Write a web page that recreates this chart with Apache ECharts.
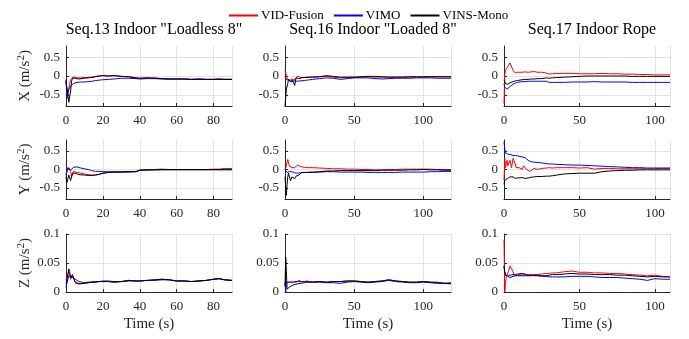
<!DOCTYPE html>
<html>
<head>
<meta charset="utf-8">
<script src="https://cdn.jsdelivr.net/npm/echarts@6/dist/echarts.min.js"></script>
<style>
  html, body { margin: 0; padding: 0; background: #fff; }
  #main { width: 689px; height: 339px; }
</style>
</head>
<body>
<div id="main"></div>
<script>
// time samples, one per sequence (s)
var t13 = [0,0.5,1,1.5,2,2.5,3,3.5, 4,5,6,7,8, 10,12,14,16,18,20, 23,26,30,34,38,40, 44,48,52,56,60, 64,68,72,76,80, 83,86,90];
var t16 = [0,0.5,1,1.5,2,2.5,3, 4,5,6,7,8,9,10, 11,12,14,16,18,20, 25,30,35,40,45,50, 55,60,65,70,75,80, 85,90,95,100,105,110, 115,120];
var t17 = [0,0.5,1,1.5,2,2.5,3, 4,5,6,6.5,7,7.5,8, 9,10,12,13,14,15,16, 17,18,20,22,25,28,30, 32,35,40,45,50,55,60, 65,70,75,80,85,90,95, 100,105,110];

var seriesNames = ['VID-Fusion', 'VIMO', 'VINS-Mono'];
var titles = ['Seq.13 Indoor "Loadless 8"', 'Seq.16 Indoor "Loaded 8"', 'Seq.17 Indoor Rope'];
var rowNames = ['X', 'Y', 'Z'];
var xMax = [90, 120, 110];
var xStep = [20, 50, 50];

// Seq.13
var xRed13 = [-0.1,-0.4,-0.5,-0.35,-0.2,-0.1,-0.08,-0.06, -0.03,-0.04,-0.05,-0.06,-0.05, -0.04,-0.04,-0.03,-0.01,0,0.01, 0,0.01,-0.01,-0.02,-0.05,-0.06, -0.05,-0.05,-0.07,-0.08,-0.08, -0.08,-0.09,-0.08,-0.09,-0.09, -0.08,-0.09,-0.09];
var xBlu13 = [-0.1,-0.6,-0.45,-0.35,-0.3,-0.27,-0.25,-0.22, -0.2,-0.18,-0.17,-0.17,-0.16, -0.16,-0.15,-0.14,-0.12,-0.11,-0.1, -0.09,-0.08,-0.06,-0.06,-0.07,-0.08, -0.07,-0.07,-0.08,-0.08,-0.08, -0.08,-0.09,-0.09,-0.09,-0.09, -0.09,-0.09,-0.09];
var xBlk13 = [-0.15,-0.3,-0.5,-0.7,-0.65,-0.4,-0.15,-0.05, -0.03,-0.06,-0.08,-0.08,-0.07, -0.06,-0.05,-0.04,-0.02,0,0.01, 0,0.01,-0.01,-0.02,-0.05,-0.06, -0.05,-0.06,-0.07,-0.08,-0.08, -0.08,-0.09,-0.08,-0.09,-0.09, -0.08,-0.09,-0.09];
var yRed13 = [-0.1,-0.15,-0.05,0.05,0.1,-0.05,-0.2,-0.15, -0.05,-0.05,-0.08,-0.1,-0.1, -0.12,-0.14,-0.15,-0.15,-0.13,-0.1, -0.08,-0.07,-0.07,-0.07,-0.06,-0.02, -0.01,0,0.01,0,0, 0,0,0,0,0.01, 0.01,0.02,0.02];
var yBlu13 = [-0.15,-0.05,0.05,0.03,0,-0.02,0,0.03, 0.06,0.08,0.07,0.05,0.04, 0.02,0,-0.03,-0.05,-0.05,-0.06, -0.06,-0.06,-0.06,-0.06,-0.05,-0.02, -0.01,-0.01,-0.01,-0.01,-0.01, -0.01,-0.01,-0.01,-0.01,-0.01, -0.01,-0.01,-0.01];
var yBlk13 = [-0.2,-0.35,-0.3,-0.15,-0.2,-0.3,-0.25,-0.1, -0.05,-0.1,-0.13,-0.14,-0.14, -0.15,-0.16,-0.16,-0.15,-0.13,-0.1, -0.08,-0.07,-0.07,-0.06,-0.06,-0.02, -0.01,-0.01,0,0,0, 0,0,0,0,0, 0,0.01,0.01];
var zRed13 = [0.02,0.022,0.03,0.035,0.03,0.022,0.02,0.028, 0.028,0.018,0.015,0.014,0.014, 0.015,0.016,0.017,0.017,0.018,0.018, 0.018,0.017,0.018,0.02,0.019,0.019, 0.02,0.021,0.022,0.021,0.019, 0.019,0.018,0.019,0.02,0.022, 0.023,0.021,0.02];
var zBlu13 = [0.008,0.015,0.022,0.028,0.03,0.028,0.026,0.028, 0.027,0.022,0.019,0.018,0.017, 0.016,0.017,0.017,0.018,0.018,0.019, 0.019,0.018,0.018,0.019,0.019,0.019, 0.02,0.02,0.021,0.021,0.019, 0.019,0.018,0.019,0.02,0.022, 0.023,0.021,0.02];
var zBlk13 = [0.015,0.02,0.03,0.04,0.035,0.025,0.024,0.03, 0.025,0.016,0.014,0.014,0.014, 0.015,0.016,0.017,0.017,0.018,0.018, 0.018,0.017,0.018,0.02,0.019,0.019, 0.02,0.021,0.022,0.021,0.019, 0.019,0.018,0.019,0.02,0.022, 0.023,0.021,0.02];

// Seq.16
var xRed16 = [0.15,0.12,0.02,-0.05,-0.1,-0.05,-0.05, -0.15,-0.08,-0.05,-0.1,-0.08,0,-0.05, -0.04,-0.04,-0.04,-0.03,-0.03,-0.03, -0.02,-0.01,-0.03,-0.05,-0.04,-0.03, -0.03,-0.02,-0.03,-0.03,-0.03,-0.03, -0.03,-0.03,-0.03,-0.03,-0.02,-0.02, -0.02,-0.02];
var xBlu16 = [0,-0.05,-0.1,-0.1,-0.1,-0.1,-0.1, -0.11,-0.12,-0.12,-0.13,-0.14,-0.14,-0.14, -0.13,-0.13,-0.12,-0.11,-0.1,-0.09, -0.07,-0.05,-0.06,-0.09,-0.07,-0.05, -0.05,-0.05,-0.07,-0.08,-0.07,-0.06, -0.06,-0.06,-0.05,-0.05,-0.05,-0.06, -0.06,-0.06];
var xBlk16 = [-0.8,-0.8,-0.35,-0.3,-0.2,-0.1,-0.08, -0.15,-0.1,-0.15,-0.25,-0.05,-0.08,-0.07, -0.06,-0.05,-0.04,-0.04,-0.03,-0.03, -0.02,0.01,-0.01,-0.03,-0.03,-0.03, -0.02,-0.01,-0.01,-0.02,-0.03,-0.03, -0.03,-0.02,-0.02,-0.02,-0.02,-0.02, -0.02,-0.02];
var yRed16 = [0,0.05,0.1,0.2,0.27,0.2,0.1, 0.05,0.05,0.04,0.05,0.06,0.12,0.1, 0.08,0.1,0.06,0.05,0.05,0.05, 0.04,0.03,0.02,0.02,0.01,0.01, 0,0,-0.01,-0.01,0,0, 0.01,0.01,0.01,0.01,0.01,0, 0,0];
var yBlu16 = [0,-0.03,-0.05,-0.08,-0.1,-0.08,-0.06, -0.05,-0.06,-0.08,-0.09,-0.1,-0.1,-0.1, -0.09,-0.08,-0.08,-0.08,-0.08,-0.08, -0.07,-0.06,-0.06,-0.07,-0.07,-0.07, -0.07,-0.08,-0.08,-0.08,-0.08,-0.08, -0.07,-0.07,-0.07,-0.07,-0.06,-0.06, -0.05,-0.05];
var yBlk16 = [-0.2,-0.5,-0.7,-0.4,-0.2,-0.1,-0.15, -0.3,-0.2,-0.22,-0.25,-0.18,-0.15,-0.15, -0.1,-0.08,-0.08,-0.08,-0.07,-0.07, -0.06,-0.04,-0.04,-0.03,-0.03,-0.03, -0.03,-0.03,-0.03,-0.02,-0.02,-0.02, -0.02,-0.01,-0.01,0,-0.01,-0.01, -0.02,-0.02];
var zRed16 = [0.017,0.017,0.017,0.017,0.017,0.017,0.017, 0.017,0.017,0.017,0.017,0.017,0.017,0.02, 0.018,0.018,0.018,0.019,0.018,0.017, 0.018,0.017,0.018,0.018,0.019,0.019, 0.018,0.017,0.018,0.019,0.021,0.019, 0.018,0.017,0.017,0.018,0.017,0.017, 0.015,0.016];
var zBlu16 = [0.017,0,0.016,0.017,0.017,0.017,0.017, 0.017,0.017,0.017,0.018,0.018,0.018,0.018, 0.018,0.018,0.018,0.018,0.017,0.017, 0.017,0.016,0.016,0.015,0.017,0.018, 0.017,0.016,0.017,0.018,0.02,0.018, 0.017,0.016,0.016,0.017,0.016,0.015, 0.015,0.014];
var zBlk16 = [0.01,0.06,0.035,0.005,0.006,0.007,0.008, 0.01,0.011,0.012,0.013,0.014,0.014,0.015, 0.015,0.016,0.016,0.017,0.017,0.017, 0.018,0.017,0.018,0.018,0.019,0.019, 0.018,0.017,0.018,0.019,0.021,0.019, 0.018,0.017,0.017,0.018,0.017,0.016, 0.015,0.015];

// Seq.17
var xRed17 = [-0.75,0.05,0.15,0.2,0.2,0.25,0.3, 0.35,0.3,0.15,0.12,0.1,0.08,0.08, 0.1,0.11,0.1,0.12,0.11,0.12,0.1, 0.12,0.11,0.12,0.1,0.1,0.08,0.05, 0.06,0.07,0.07,0.07,0.06,0.06,0.06, 0.07,0.06,0.06,0.05,0.05,0.04,0.04, 0.03,0.03,0.03];
var xBlu17 = [-0.2,-0.3,-0.33,-0.35,-0.35,-0.33,-0.3, -0.28,-0.25,-0.22,-0.21,-0.2,-0.19,-0.18, -0.17,-0.16,-0.15,-0.15,-0.15,-0.14,-0.14, -0.14,-0.14,-0.14,-0.14,-0.14,-0.14,-0.17, -0.17,-0.17,-0.17,-0.16,-0.16,-0.16,-0.15, -0.16,-0.16,-0.16,-0.16,-0.17,-0.17,-0.17, -0.17,-0.17,-0.17];
var xBlk17 = [-0.1,-0.15,-0.2,-0.22,-0.23,-0.22,-0.2, -0.18,-0.16,-0.15,-0.15,-0.14,-0.13,-0.13, -0.12,-0.1,-0.1,-0.1,-0.09,-0.09,-0.09, -0.09,-0.08,-0.08,-0.07,-0.07,-0.05,-0.06, -0.05,-0.04,-0.03,-0.02,-0.01,0,0, 0,0,0,0,-0.01,-0.01,-0.01, -0.01,-0.01,-0.01];
var yRed17 = [-0.3,0.3,0.05,0.15,0.25,0.1,0.15, 0.25,0.05,0.3,0.35,0.35,0.15,0.05, 0.03,0.05,0,0.1,0.05,0,-0.02, -0.05,0,0.03,0,0.03,0.04,0.05, 0.04,0.05,0.05,0.05,0.04,0.05,0.01, 0.03,0.03,0.02,0.02,0.02,0.02,0.02, 0.02,0.03,0.03];
var yBlu17 = [0.75,0.55,0.45,0.44,0.43,0.42,0.42, 0.41,0.4,0.38,0.38,0.38,0.38,0.38, 0.37,0.36,0.34,0.33,0.32,0.3,0.25, 0.22,0.21,0.2,0.19,0.18,0.16,0.15, 0.15,0.14,0.13,0.12,0.12,0.11,0.1, 0.09,0.08,0.07,0.06,0.05,0.05,0.04, 0.04,0.04,0.04];
var yBlk17 = [-0.4,-0.3,-0.28,-0.25,-0.25,-0.23,-0.22, -0.2,-0.18,-0.2,-0.22,-0.23,-0.24,-0.24, -0.23,-0.22,-0.22,-0.23,-0.24,-0.24,-0.23, -0.22,-0.21,-0.2,-0.19,-0.19,-0.18,-0.18, -0.17,-0.15,-0.12,-0.11,-0.1,-0.1,-0.1, -0.06,-0.04,-0.03,-0.02,-0.02,-0.01,-0.01, -0.01,-0.01,-0.01];
var zRed17 = [0.09,0,0.015,0.025,0.03,0.03,0.035, 0.045,0.047,0.035,0.03,0.028,0.028,0.029, 0.03,0.03,0.031,0.03,0.03,0.029,0.03, 0.03,0.03,0.03,0.03,0.031,0.032,0.032, 0.033,0.033,0.035,0.036,0.034,0.034,0.033, 0.033,0.032,0.032,0.031,0.03,0.029,0.028, 0.029,0.027,0.026];
var zBlu17 = [0.045,0.032,0.028,0.027,0.028,0.029,0.03, 0.029,0.03,0.03,0.031,0.03,0.03,0.03, 0.031,0.031,0.032,0.031,0.031,0.03,0.029, 0.029,0.029,0.028,0.028,0.027,0.027,0.026, 0.026,0.026,0.026,0.027,0.027,0.027,0.026, 0.025,0.025,0.025,0.024,0.023,0.022,0.02, 0.023,0.022,0.022];
var zBlk17 = [0.045,0.035,0.03,0.028,0.027,0.027,0.026, 0.025,0.026,0.027,0.027,0.028,0.028,0.028, 0.028,0.028,0.028,0.028,0.028,0.028,0.028, 0.028,0.028,0.029,0.029,0.028,0.028,0.029, 0.03,0.03,0.031,0.032,0.031,0.031,0.03, 0.03,0.03,0.029,0.029,0.028,0.027,0.026, 0.027,0.026,0.026];

var times = [t13, t16, t17];
var panels = [
    [[xRed13, xBlu13, xBlk13], [xRed16, xBlu16, xBlk16], [xRed17, xBlu17, xBlk17]],
    [[yRed13, yBlu13, yBlk13], [yRed16, yBlu16, yBlk16], [yRed17, yBlu17, yBlk17]],
    [[zRed13, zBlu13, zBlk13], [zRed16, zBlu16, zBlk16], [zRed17, zBlu17, zBlk17]]
];

var myChart = echarts.init(document.getElementById('main'));

var font = "'Liberation Serif', 'Times New Roman', serif";
var axisColor = '#262626';
var colors = ['#ff0000', '#0000ff', '#000000'];
var gridLeft = [66, 285, 504];
var gridTop = [46, 140, 234];
var gridH = [60, 59, 58];

var grids = [], xAxes = [], yAxes = [], series = [], titleList = [];

for (var c = 0; c < 3; c++) {
    titleList.push({
        text: titles[c],
        left: gridLeft[c] + 83,
        top: 17,
        textAlign: 'center',
        textStyle: { fontFamily: font, fontSize: 16, fontWeight: 'normal', color: '#000' }
    });
}

for (var r = 0; r < 3; r++) {
    for (var c = 0; c < 3; c++) {
        var idx = r * 3 + c;
        grids.push({ left: gridLeft[c], top: gridTop[r], width: 166, height: gridH[r] });

        xAxes.push({
            type: 'value', gridIndex: idx, min: 0, max: xMax[c], interval: xStep[c],
            name: r == 2 ? 'Time (s)' : '', nameLocation: 'middle', nameGap: 25,
            nameTextStyle: { fontFamily: font, fontSize: 15, color: axisColor },
            axisLine: { show: true, onZero: false, lineStyle: { color: axisColor, width: 1 } },
            axisTick: { show: true, inside: true, length: 3, lineStyle: { color: axisColor } },
            axisLabel: { fontFamily: font, fontSize: 13, color: axisColor, margin: 8,
                showMaxLabel: xMax[c] % xStep[c] == 0 },
            splitLine: { show: true, lineStyle: { color: '#e3e3e3', width: 1 } }
        });

        var y = {
            type: 'value', gridIndex: idx,
            axisLine: { show: true, onZero: false, lineStyle: { color: axisColor, width: 1 } },
            axisTick: { show: true, inside: true, length: 3, lineStyle: { color: axisColor } },
            axisLabel: { fontFamily: font, fontSize: 13, color: axisColor, margin: 6 },
            splitLine: { show: true, lineStyle: { color: '#e3e3e3', width: 1 } }
        };
        if (r < 2) {
            y.min = -0.8; y.max = 0.8;
            y.axisLabel.customValues = [-0.5, 0, 0.5];
            y.axisTick.customValues = [-0.5, 0, 0.5];
        } else {
            y.min = 0; y.max = 0.1; y.interval = 0.05;
        }
        if (c == 0) {
            y.name = rowNames[r] + ' (m/s{sup|2})';
            y.nameLocation = 'middle';
            y.nameGap = 32;
            y.nameTextStyle = {
                fontFamily: font, fontSize: 15, color: axisColor,
                rich: { sup: { fontFamily: font, fontSize: 11, color: axisColor, padding: [0, 0, 7, 0] } }
            };
        }
        yAxes.push(y);

        var t = times[c];
        for (var s = 0; s < 3; s++) {
            var vals = panels[r][c][s];
            var d = [];
            for (var i = 0; i < t.length; i++) {
                d.push([t[i], vals[i]]);
            }
            series.push({
                name: seriesNames[s], type: 'line',
                xAxisIndex: idx, yAxisIndex: idx,
                symbol: 'none', clip: true,
                lineStyle: { color: colors[s], width: 1 },
                itemStyle: { color: colors[s] },
                data: d
            });
        }
    }
}

var option = {
    backgroundColor: '#fff',
    animation: false,
    title: titleList,
    legend: {
        data: seriesNames,
        left: 224, top: 4,
        icon: 'rect',
        itemWidth: 29, itemHeight: 2, itemGap: 10,
        textStyle: { fontFamily: font, fontSize: 13, color: '#000', padding: [0, 0, 0, -2] }
    },
    grid: grids,
    xAxis: xAxes,
    yAxis: yAxes,
    series: series
};

myChart.setOption(option);
</script>
</body>
</html>
